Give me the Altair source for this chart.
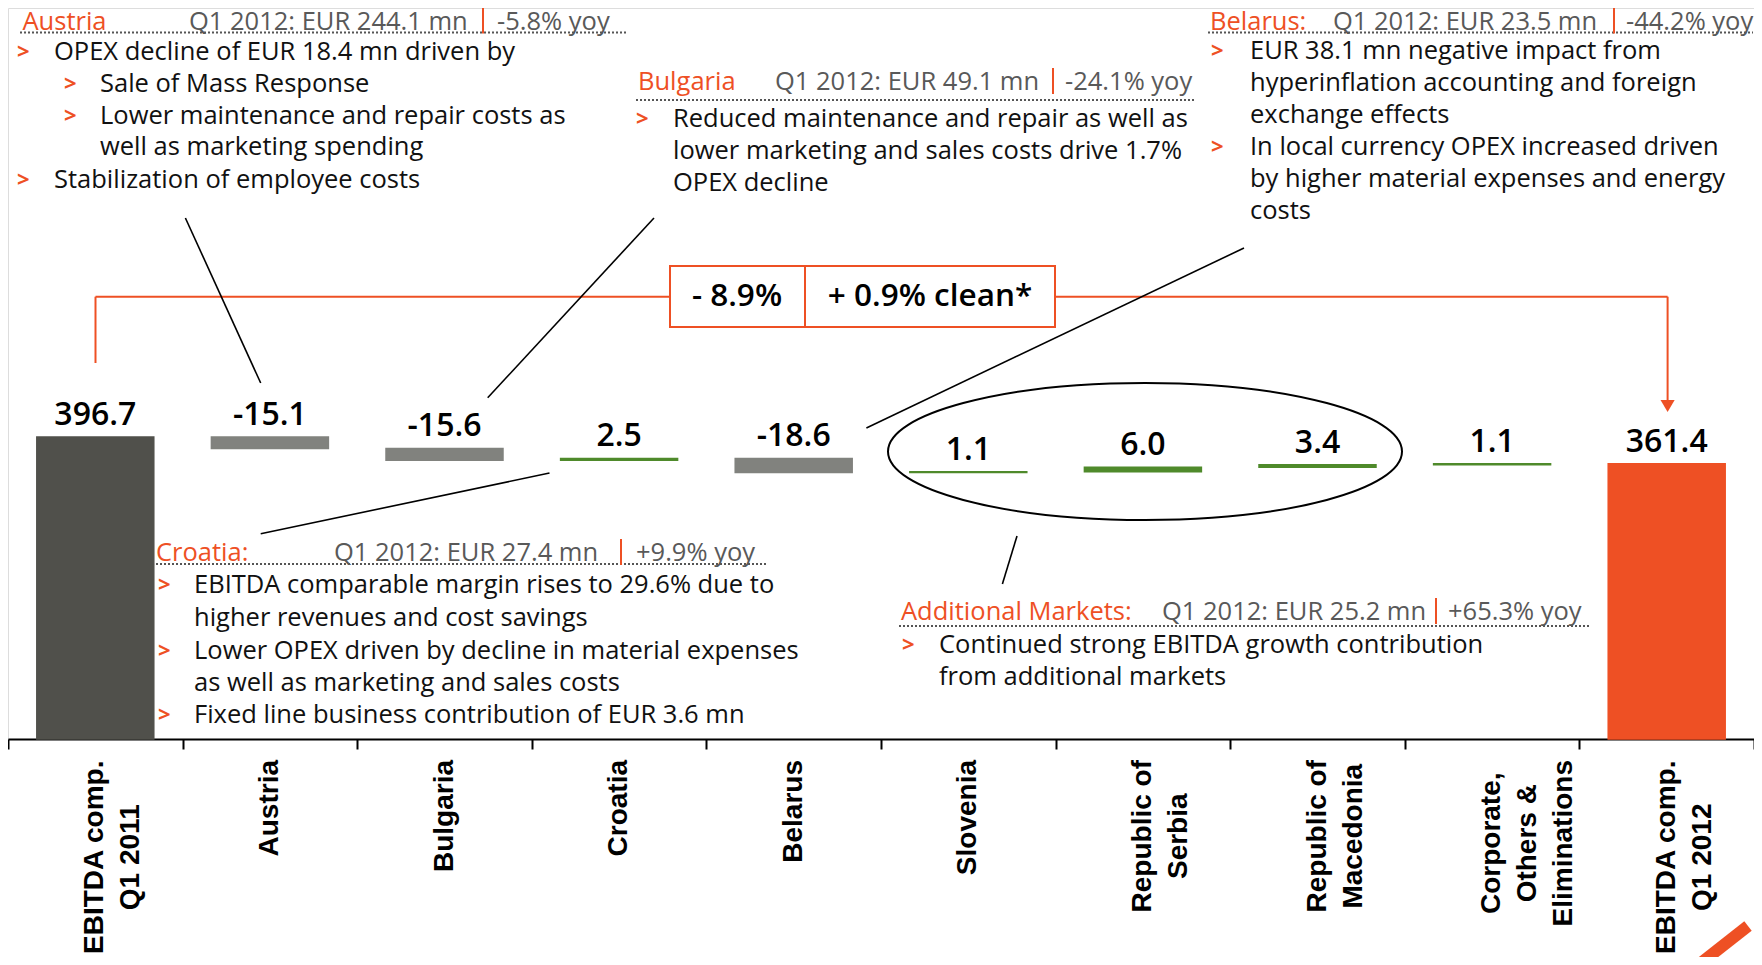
import altair as alt
import pandas as pd

# ---------------- chart data ----------------
categories = ["EBITDA comp.\nQ1 2011", "Austria", "Bulgaria", "Croatia", "Belarus",
              "Slovenia", "Republic of\nSerbia", "Republic of\nMacedonia",
              "Corporate,\nOthers &\nEliminations", "EBITDA comp.\nQ1 2012"]
values = [396.7, -15.1, -15.6, 2.5, -18.6, 1.1, 6.0, 3.4, 1.1, 361.4]
is_total = [True, False, False, False, False, False, False, False, False, True]
value_labels = ["396.7", "-15.1", "-15.6", "2.5", "-18.6", "1.1", "6.0", "3.4", "1.1", "361.4"]

bridge_labels = ["- 8.9%", "+ 0.9% clean*"]

note_heads = ["Austria", "Bulgaria", "Belarus:", "Croatia:", "Additional Markets:"]
note_q1 = ["Q1 2012: EUR 244.1 mn", "Q1 2012: EUR 49.1 mn", "Q1 2012: EUR 23.5 mn",
           "Q1 2012: EUR 27.4 mn", "Q1 2012: EUR 25.2 mn"]
note_yoy = ["-5.8% yoy", "-24.1% yoy", "-44.2% yoy", "+9.9% yoy", "+65.3% yoy"]
note_lines = [
    "OPEX decline of EUR 18.4 mn driven by",
    "Sale of Mass Response",
    "Lower maintenance and repair costs as",
    "well as marketing spending",
    "Stabilization of employee costs",
    "Reduced maintenance and repair as well as",
    "lower marketing and sales costs drive 1.7%",
    "OPEX decline",
    "EUR 38.1 mn negative impact from",
    "hyperinflation accounting and foreign",
    "exchange effects",
    "In local currency OPEX increased driven",
    "by higher material expenses and energy",
    "costs",
    "EBITDA comparable margin rises to 29.6% due to",
    "higher revenues and cost savings",
    "Lower OPEX driven by decline in material expenses",
    "as well as marketing and sales costs",
    "Fixed line business contribution of EUR 3.6 mn",
    "Continued strong EBITDA growth contribution",
    "from additional markets",
]

# ---------------- colours / fonts ----------------
DARK = "#50504b"
GREY = "#81827e"
GREEN = "#4f8a2b"
ORANGE = "#ee5024"
TXT = "#111111"
GTXT = "#595959"
FONT = "Open Sans"
AXF = "Liberation Sans"

W, H, PB = 1746, 731, 218

# ---------------- waterfall table ----------------
keys = ["c%d" % i for i in range(len(categories))]
rows = []
run = 0.0
for i, (k, v, t, lab) in enumerate(zip(keys, values, is_total, value_labels)):
    if t:
        lo, hi = 0.0, v
        run = v
        col = DARK if i == 0 else ORANGE
    else:
        lo, hi = run, run + v
        run = run + v
        col = GREY if v < 0 else GREEN
    rows.append({"key": k, "lo": lo, "hi": hi, "top": max(lo, hi), "col": col, "lab": lab})
df = pd.DataFrame(rows)

# category label placement (text block top-anchored, lines centred)
AB = {' ': 278, ',': 278, '.': 278, '&': 722, '0': 556, '1': 556, '2': 556,
      'A': 722, 'B': 722, 'C': 722, 'D': 722, 'E': 667, 'I': 278, 'M': 833, 'O': 778,
      'Q': 778, 'R': 722, 'S': 667, 'T': 611, 'a': 556, 'b': 611, 'c': 556, 'd': 611,
      'e': 556, 'f': 333, 'g': 611, 'i': 278, 'l': 278, 'm': 889, 'n': 611, 'o': 611,
      'p': 611, 'r': 389, 's': 556, 't': 333, 'u': 611, 'v': 556}
CAT_FS = 28


def tw(s):
    return sum(AB.get(ch, 556) for ch in s) * CAT_FS / 1000.0


cat_df = pd.DataFrame({
    "key": keys,
    "label": categories,
    "ly": [752 + max(tw(l) for l in c.split("\n")) / 2 for c in categories],
})

xscale = alt.Scale(domain=keys, paddingInner=0.33, paddingOuter=0.165)
xscale_steps = alt.Scale(domain=keys, paddingInner=0, paddingOuter=0)
yscale = alt.Scale(domain=[0, 960.2], zero=False, nice=False)


bars = alt.Chart(df).mark_bar(strokeWidth=1.5).encode(
    x=alt.X("key:N", sort=keys, scale=xscale, axis=None),
    y=alt.Y("lo:Q", scale=yscale, axis=None),
    y2="hi:Q",
    color=alt.Color("col:N", scale=None),
    stroke=alt.Stroke("col:N", scale=None),
)

vlabels = alt.Chart(df).mark_text(dy=-22, baseline="middle", align="center",
                                  fontSize=32, font=FONT, fontWeight=600,
                                  color="#000").encode(
    x=alt.X("key:N", sort=keys, scale=xscale, axis=None),
    y=alt.Y("top:Q", scale=yscale, axis=None),
    text="lab:N",
)

catlabels = alt.Chart(cat_df).mark_text(angle=270, align="center", baseline="middle",
                                        lineBreak="\n", lineHeight=36, fontSize=CAT_FS,
                                        font=AXF, fontWeight="bold",
                                        color="#000").encode(
    x=alt.X("key:N", sort=keys, scale=xscale_steps,
            axis=alt.Axis(title=None, labels=False, domain=True, domainColor="#000",
                          domainWidth=2, ticks=True, tickColor="#000", tickWidth=2,
                          tickSize=10, tickBand="extent", grid=False)),
    y=alt.Y("ly:Q", scale=None, axis=None),
    text="label:N",
)


# ---------------- pixel helpers for annotations ----------------
def px_text(rows, **kw):
    d = pd.DataFrame(rows, columns=["x", "y", "t"])
    base = dict(align="left", baseline="middle", font=FONT)
    base.update(kw)
    return alt.Chart(d).mark_text(**base).encode(
        x=alt.X("x:Q", scale=None, axis=None),
        y=alt.Y("y:Q", scale=None, axis=None),
        text="t:N")


def px_rules(rows, **kw):
    d = pd.DataFrame(rows, columns=["x", "y", "x2", "y2"])
    return alt.Chart(d).mark_rule(**kw).encode(
        x=alt.X("x:Q", scale=None, axis=None),
        y=alt.Y("y:Q", scale=None, axis=None),
        x2="x2:Q", y2="y2:Q")


# note layout: heading position, q1 x, separator x, yoy x, underline extent
head_pos = [(14.5, 13.5), (630, 74), (1202, 13.5), (148, 545), (893, 604)]
q1_x = [181, 767, 1325, 326, 1154]
sep_x = [475, 1045, 1606, 613, 1428]
yoy_x = [489, 1057, 1618, 628, 1440]
under = [(12, 618, 24.6), (628, 1186, 92), (1200, 1745, 24.6), (148, 758, 556), (891, 1582, 618)]

line_pos = [(46, 43.7), (92, 76.3), (92, 107.7), (92, 139.2), (46, 171.8),
            (665, 111), (665, 142.6), (665, 175),
            (1242, 42.6), (1242, 75.2), (1242, 106.6), (1242, 139.2), (1242, 170.7), (1242, 203.3),
            (186, 577.4), (186, 610), (186, 642.6), (186, 675.2), (186, 706.7),
            (931, 637), (931, 668.5)]
bullet_pos = [(9, 43.7), (56, 76.3), (56, 107.7), (9, 171.8), (628, 111),
              (1203, 42.6), (1203, 139.2), (150, 577.4), (150, 642.6), (150, 706.7),
              (894, 637)]

heads = px_text([(p[0], p[1], t) for p, t in zip(head_pos, note_heads)],
                fontSize=25.5, color=ORANGE)
q1s = px_text([(x, p[1], t) for x, p, t in zip(q1_x, head_pos, note_q1)] +
              [(x, p[1], t) for x, p, t in zip(yoy_x, head_pos, note_yoy)],
              fontSize=25.5, color=GTXT)
seps = px_rules([(x, p[1] - 14, x, p[1] + 12) for x, p in zip(sep_x, head_pos)],
                color=ORANGE, strokeWidth=2)
unders = px_rules([(a, y, b, y) for a, b, y in under],
                  color="#555555", strokeWidth=2, strokeDash=[2, 2])
body = px_text([(p[0], p[1], t) for p, t in zip(line_pos, note_lines)],
               fontSize=25.5, color=TXT)
bullets = px_text([(p[0], p[1], ">") for p in bullet_pos],
                  fontSize=22, fontWeight="bold", color=ORANGE)

# bridge line and box
bridge = px_rules([(87.5, 355, 87.5, 288.7), (87.5, 288.7, 662, 288.7),
                   (1047, 288.7, 1659.6, 288.7), (1659.6, 288.7, 1659.6, 395)],
                  color=ORANGE, strokeWidth=2)
box = alt.Chart(pd.DataFrame({"x": [662], "x2": [1047], "y": [258], "y2": [319]})).mark_rect(
    fill="white", stroke=ORANGE, strokeWidth=2).encode(
    x=alt.X("x:Q", scale=None, axis=None), x2="x2:Q",
    y=alt.Y("y:Q", scale=None, axis=None), y2="y2:Q")
divider = px_rules([(797, 258, 797, 319)], color=ORANGE, strokeWidth=2)
boxtext = px_text([(729, 289, bridge_labels[0]), (922, 289, bridge_labels[1])],
                  align="center", fontSize=31.5, fontWeight=600, color="#000")
arrow = alt.Chart(pd.DataFrame({"x": [1659.6], "y": [398]})).mark_point(
    shape="triangle-down", size=200, filled=True, color=ORANGE, opacity=1).encode(
    x=alt.X("x:Q", scale=None, axis=None), y=alt.Y("y:Q", scale=None, axis=None))

connectors = px_rules([(177.4, 210, 252.7, 375), (646, 210, 479.7, 389.8),
                       (1236, 240, 858.4, 420), (541.5, 465, 252.7, 525.8),
                       (1009, 528, 994.4, 576)], color="#000", strokeWidth=1.6)

r = 0.2665
k = 0.5523
ell_path = ("M -1 0 C -1 {a} {b} {c} 0 {c} C {nb} {c} 1 {a} 1 0 "
            "C 1 {na} {nb} {nc} 0 {nc} C {b} {nc} -1 {na} -1 0 Z").format(
    a=-k * r, b=-k, c=-r, nb=k, na=k * r, nc=r)
ellipse = alt.Chart(pd.DataFrame({"x": [1137], "y": [443.5]})).mark_point(
    shape=ell_path, size=514 ** 2, filled=False, color="#000", strokeWidth=2,
    opacity=1).encode(
    x=alt.X("x:Q", scale=None, axis=None), y=alt.Y("y:Q", scale=None, axis=None))

slash = px_rules([(1684, 962, 1740, 918)], color=ORANGE, strokeWidth=12, strokeCap="butt")

chart = alt.layer(
    bars, vlabels, catlabels, bridge, box, divider, boxtext, arrow, connectors,
    ellipse, unders, heads, q1s, seps, body, bullets, slash
).resolve_scale(x="independent", y="independent").properties(
    width=W, height=H,
    padding={"left": 0, "top": 0, "right": 0, "bottom": PB},
    autosize=alt.AutoSizeParams(type="none"),
).configure_view(stroke=None).configure(background="white")

chart.save("out.html", embed_options={"renderer": "svg", "actions": False})
